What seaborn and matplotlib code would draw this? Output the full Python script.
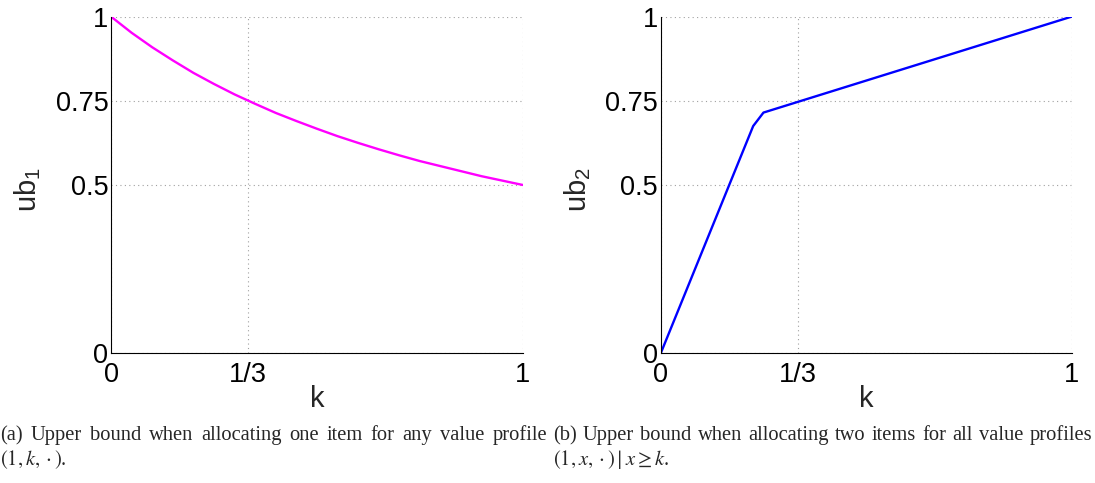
import matplotlib
matplotlib.use("Agg")
import matplotlib.pyplot as plt
import seaborn as sns
import pandas as pd

sns.set_style("white")
plt.rcParams["font.family"] = ["Liberation Sans", "DejaVu Sans"]
plt.rcParams["mathtext.fontset"] = "custom"
plt.rcParams["mathtext.rm"] = "Liberation Sans"
plt.rcParams["mathtext.it"] = "Liberation Sans:italic"

# ub_1 as a function of k (one item)
k_one = [0.0, 0.05, 0.1, 0.15, 0.2, 0.25, 0.3, 0.35, 0.4, 0.45, 0.5,
         0.55, 0.6, 0.65, 0.7, 0.75, 0.8, 0.85, 0.9, 0.95, 1.0]
ub_one = [1.0, 0.952, 0.909, 0.870, 0.833, 0.800, 0.769, 0.741, 0.714, 0.690, 0.667,
          0.645, 0.625, 0.606, 0.588, 0.571, 0.556, 0.541, 0.526, 0.513, 0.5]

# ub_2 as a function of k (two items)
k_two = [0.0, 0.225, 0.25, 0.4, 0.55, 0.7, 0.85, 1.0]
ub_two = [0.0, 0.675, 0.715, 0.772, 0.829, 0.886, 0.943, 1.0]

x_ticks = [0, 1 / 3, 1]
x_ticklabels = ["0", "1/3", "1"]
y_ticks = [0, 0.5, 0.75, 1]
y_ticklabels = ["0", "0.5", "0.75", "1"]

captions = [
    ("(a) Upper bound when allocating one item for any value profile", r"$(1, k, \cdot)$."),
    ("(b) Upper bound when allocating two items for all value profiles", r"$(1, x, \cdot) \mid x \geq k$."),
]

W, H, DPI = 10.95, 4.83, 100
fig = plt.figure(figsize=(W, H), dpi=DPI)
ax1 = fig.add_axes([0.1014, 0.2685, 0.3760, 0.6971])
ax2 = fig.add_axes([0.6034, 0.2685, 0.3753, 0.6971])

panels = [
    (ax1, k_one, ub_one, "#FF00FF", r"ub$_\mathregular{1}$"),
    (ax2, k_two, ub_two, "#0000FF", r"ub$_\mathregular{2}$"),
]

for ax, xs, ys, color, ylab in panels:
    df = pd.DataFrame({"k": xs, "ub": ys})
    sns.lineplot(data=df, x="k", y="ub", ax=ax, color=color, linewidth=1.7,
                 estimator=None, sort=False)
    ax.set_xlim(0, 1)
    ax.set_ylim(0, 1)
    ax.set_xticks(x_ticks)
    ax.set_xticklabels(x_ticklabels)
    ax.set_yticks(y_ticks)
    ax.set_yticklabels(y_ticklabels)
    ax.tick_params(axis="both", direction="in", length=4, width=0.6,
                   labelsize=19.5, colors="black")
    ax.tick_params(axis="x", pad=6.5)
    ax.tick_params(axis="y", pad=2)
    ax.grid(True, color="#a0a0a0", linestyle=(0, (1, 3)), linewidth=0.8)
    for side in ("top", "right"):
        ax.spines[side].set_visible(False)
    for side in ("left", "bottom"):
        ax.spines[side].set_visible(True)
        ax.spines[side].set_color("black")
        ax.spines[side].set_linewidth(0.8)
    ax.set_xlabel("k", fontsize=21)
    ax.set_ylabel(ylab, fontsize=21)
    ax.xaxis.set_label_coords(0.5, -0.095)
    ax.yaxis.set_label_coords(-0.165, 0.485)
    ax.set_facecolor("white")

# Captions: first line justified across the column, second line left aligned
serif = ["Liberation Serif", "DejaVu Serif"]
cap_kw = dict(fontsize=14.8, family=serif, va="baseline", ha="left", math_fontfamily="stix")
renderer = fig.canvas.get_renderer()
fig_w_px = W * DPI
columns = [(0.0, 547.0), (553.0, 1092.0)]
for (line1, line2), (x0, x1) in zip(captions, columns):
    words = line1.split()
    arts = [fig.text(0, 0.089, w, **cap_kw) for w in words]
    widths = [a.get_window_extent(renderer).width for a in arts]
    gap = (x1 - x0 - sum(widths)) / (len(words) - 1)
    x = x0
    for a, w in zip(arts, widths):
        a.set_x(x / fig_w_px)
        x += w + gap
    fig.text(x0 / fig_w_px, 0.037, line2, **cap_kw)

fig.savefig("out.png", dpi=DPI, facecolor="white")
